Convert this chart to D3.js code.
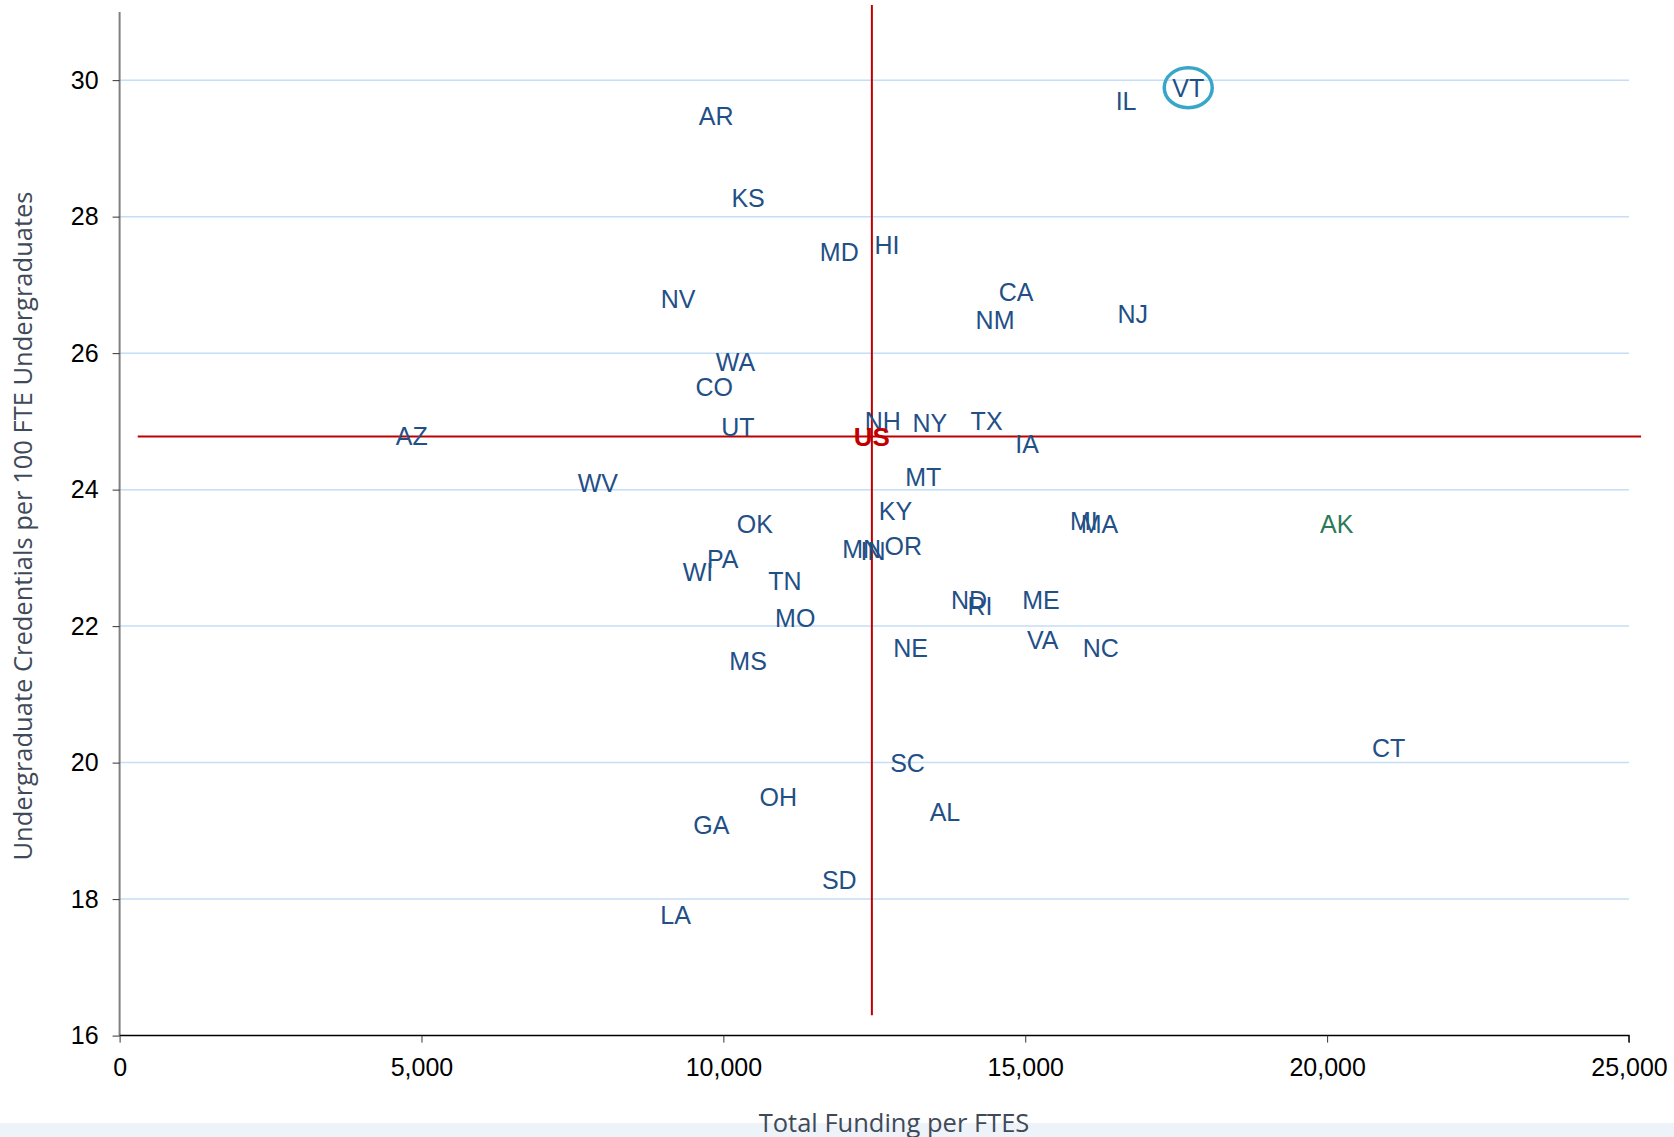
<!DOCTYPE html>
<html>
<head>
<meta charset="utf-8">
<script src="https://cdn.jsdelivr.net/npm/d3@7"></script>
<style>
  html, body { margin: 0; padding: 0; background: #ffffff; }
  svg { display: block; }
</style>
</head>
<body>
<script>
// ---- data ----
const states = ["AR","KS","MD","HI","NV","CA","NM","NJ","IL","VT","WA","CO","UT","AZ","NH","NY","TX","IA","WV","MT","KY","OK","MI","MA","AK","MN","IN","OR","PA","WI","TN","ND","RI","ME","MO","VA","NE","NC","MS","SC","CT","OH","AL","GA","SD","LA"];
const funding = [9880,10410,11920,12710,9250,14850,14500,16780,16670,17700,10200,9850,10240,4840,12640,13420,14360,15030,7920,13310,12850,10520,15970,16230,20160,12290,12480,12980,9990,9580,11020,14070,14250,15260,11190,15290,13100,16250,10410,13050,21020,10910,13670,9800,11920,9210];
const credentials = [29.48,28.28,27.48,27.59,26.79,26.90,26.48,26.57,29.69,29.89,25.87,25.50,24.92,24.78,25.00,24.98,25.01,24.67,24.10,24.18,23.68,23.49,23.54,23.49,23.49,23.13,23.10,23.18,22.98,22.80,22.66,22.38,22.29,22.38,22.12,21.79,21.68,21.68,21.49,19.99,20.22,19.49,19.27,19.08,18.28,17.77];
const highlightState = "VT";
const greenState = "AK";
const usFunding = 12460;
const usCredentials = 24.78;
const usHLineX = [300, 25200];
const usVLineY = [16.3, 31.1];
const xTicks = [0, 5000, 10000, 15000, 20000, 25000];
const yTicks = [16, 18, 20, 22, 24, 26, 28, 30];
const xTitle = "Total Funding per FTES";
const yTitle = "Undergraduate Credentials per 100 FTE Undergraduates";

// ---- layout ----
const W = 1674, H = 1137;
const svg = d3.select("body").append("svg").attr("width", W).attr("height", H);

const x = d3.scaleLinear().domain([0, 25000]).range([119.6, 1629]);
const y = d3.scaleLinear().domain([16, 31]).range([1035.6, 11.9]);

// bottom band
svg.append("rect").attr("x", 0).attr("y", 1123).attr("width", W).attr("height", H - 1123).attr("fill", "#eef3fa");

// gridlines
svg.append("g").selectAll("line").data(yTicks.filter(d => d > 16)).join("line")
  .attr("x1", x(0)).attr("x2", x(25000))
  .attr("y1", d => y(d)).attr("y2", d => y(d))
  .attr("stroke", "#c3def6").attr("stroke-width", 1.5);

// y axis
const yAxis = svg.append("g").attr("transform", `translate(${x(0)},0)`)
  .call(d3.axisLeft(y).tickValues(yTicks).tickSize(7).tickPadding(14).tickFormat(d3.format("d")));
yAxis.select(".domain").attr("stroke", "#808080").attr("stroke-width", 2).attr("d", `M0,${y(31)}V${y(16)}`);
yAxis.selectAll(".tick line").attr("stroke", "#333");
yAxis.selectAll(".tick text").attr("font-family", "Liberation Sans, Arial, sans-serif").attr("font-size", 25).attr("fill", "#000");

// x axis
const xAxis = svg.append("g").attr("transform", `translate(0,${y(16)})`)
  .call(d3.axisBottom(x).tickValues(xTicks).tickSize(7).tickPadding(16).tickFormat(d3.format(",")));
xAxis.select(".domain").attr("stroke", "#000").attr("stroke-width", 1.5).attr("d", `M${x(0)},0H${x(25000)}V7`);
xAxis.selectAll(".tick line").attr("stroke", "#333");
xAxis.selectAll(".tick text").attr("font-family", "Liberation Sans, Arial, sans-serif").attr("font-size", 25).attr("fill", "#000");

// US reference lines
svg.append("line")
  .attr("x1", x(usHLineX[0])).attr("x2", x(usHLineX[1]))
  .attr("y1", y(usCredentials)).attr("y2", y(usCredentials))
  .attr("stroke", "#c00000").attr("stroke-width", 2);
svg.append("line")
  .attr("x1", x(usFunding)).attr("x2", x(usFunding))
  .attr("y1", y(usVLineY[0])).attr("y2", y(usVLineY[1]))
  .attr("stroke", "#c00000").attr("stroke-width", 2);

// state labels
const data = states.map((s, i) => ({s, fx: funding[i], cy: credentials[i]}));
svg.append("g").selectAll("text").data(data).join("text")
  .attr("x", d => x(d.fx)).attr("y", d => y(d.cy))
  .attr("text-anchor", "middle").attr("dy", "0.36em")
  .attr("font-family", "Liberation Sans, Arial, sans-serif").attr("font-size", 25)
  .attr("fill", d => d.s === greenState ? "#2a7a58" : "#234f87")
  .text(d => d.s);

// US label
svg.append("text")
  .attr("x", x(usFunding)).attr("y", y(usCredentials))
  .attr("text-anchor", "middle").attr("dy", "0.36em")
  .attr("font-family", "Liberation Sans, Arial, sans-serif").attr("font-size", 26).attr("font-weight", "bold")
  .attr("fill", "#c00000").text("US");

// highlight circle
const vt = data.find(d => d.s === highlightState);
svg.append("ellipse")
  .attr("cx", x(vt.fx)).attr("cy", y(vt.cy))
  .attr("rx", 24).attr("ry", 20)
  .attr("fill", "none").attr("stroke", "#38a6c8").attr("stroke-width", 3.5);

// axis titles
svg.append("text")
  .attr("transform", `translate(32,526) rotate(-90)`)
  .attr("text-anchor", "middle")
  .attr("font-family", "Open Sans, sans-serif").attr("font-size", 25.5)
  .attr("fill", "#3f4a59").text(yTitle);

svg.append("text")
  .attr("x", 894).attr("y", 1132)
  .attr("text-anchor", "middle")
  .attr("font-family", "Open Sans, sans-serif").attr("font-size", 25.5)
  .attr("fill", "#3f4a59").text(xTitle);
</script>
</body>
</html>
